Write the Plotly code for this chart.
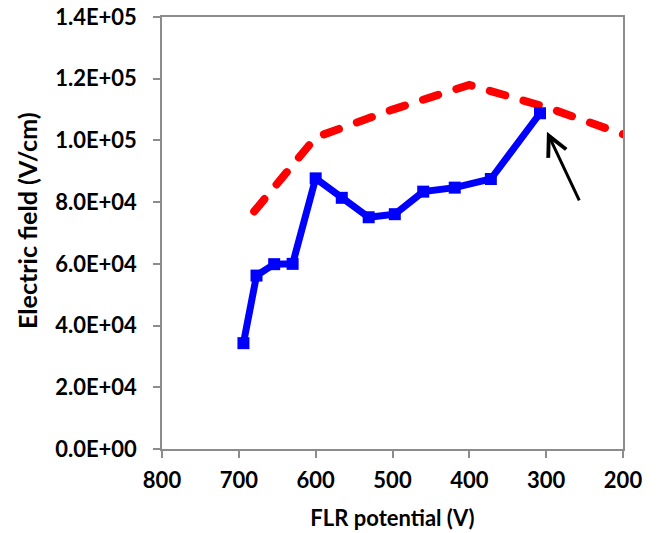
import plotly.graph_objects as go

# FLR potential (V) and electric field (V/cm)
flr_blue = [694, 677, 654, 630, 600, 566, 531, 497, 460, 419, 372, 308]
field_blue = [3.43e4, 5.62e4, 5.99e4, 6.0e4, 8.77e4, 8.14e4, 7.51e4, 7.61e4, 8.34e4, 8.47e4, 8.75e4, 1.088e5]

flr_red = [680, 600, 500, 400, 300, 200]
field_red = [7.7e4, 1.01e5, 1.10e5, 1.18e5, 1.108e5, 1.02e5]

x_ticks = [800, 700, 600, 500, 400, 300, 200]
y_ticks = [0, 2e4, 4e4, 6e4, 8e4, 1.0e5, 1.2e5, 1.4e5]
y_ticktext = ["0.0E+00", "2.0E+04", "4.0E+04", "6.0E+04", "8.0E+04", "1.0E+05", "1.2E+05", "1.4E+05"]

# arrow: head and tail in data coordinates
arrow_head = (299, 1.028e5)
arrow_tail = (256, 8.01e4)

FONT = "Lato"
AXIS_COLOR = "#8c8c8c"

fig = go.Figure()
fig.add_trace(go.Scatter(
    x=flr_red, y=field_red, mode="lines",
    line=dict(color="#ff0000", width=8, dash="16px,19px"),
    showlegend=False, hoverinfo="skip",
))
fig.add_trace(go.Scatter(
    x=flr_blue, y=field_blue, mode="lines+markers",
    line=dict(color="#0000ff", width=7),
    marker=dict(symbol="square", size=12, color="#0000ff"),
    showlegend=False,
))

fig.add_annotation(
    x=arrow_head[0], y=arrow_head[1], xref="x", yref="y",
    ax=arrow_tail[0], ay=arrow_tail[1], axref="x", ayref="y",
    showarrow=True, arrowhead=5, arrowsize=1.3, arrowwidth=3, arrowcolor="black",
    text="",
)

fig.add_annotation(
    text="<b>Electric field (V/cm)</b>", textangle=-90,
    xref="paper", yref="paper", x=-0.293, y=0.53,
    xanchor="center", yanchor="middle", showarrow=False,
    font=dict(family=FONT, size=25, color="black"),
)

fig.update_layout(
    width=669, height=533,
    margin=dict(l=162, r=46, t=17, b=84, autoexpand=False),
    paper_bgcolor="white", plot_bgcolor="white",
    font=dict(family=FONT, color="black"),
    xaxis=dict(
        range=[800, 200], tickvals=x_ticks, automargin=False,
        showline=True, mirror=True, linecolor=AXIS_COLOR, linewidth=1.5,
        ticks="outside", ticklen=7, tickcolor=AXIS_COLOR, tickwidth=1.5,
        showgrid=False, zeroline=False,
        tickfont=dict(family=FONT, size=22, color="black", weight="bold"),
        ticklabelstandoff=4,
        title=dict(text="<b>FLR potential (V)</b>", font=dict(family=FONT, size=22, color="black"), standoff=18),
    ),
    yaxis=dict(
        range=[0, 1.4e5], tickvals=y_ticks, ticktext=y_ticktext, automargin=False,
        showline=True, mirror=True, linecolor=AXIS_COLOR, linewidth=1.5,
        ticks="outside", ticklen=7, tickcolor=AXIS_COLOR, tickwidth=1.5,
        showgrid=False, zeroline=False,
        tickfont=dict(family=FONT, size=22, color="black", weight="bold"),
        ticklabelstandoff=12,
    ),
)

post = (
    "document.body.style.margin='0';"
    "var tr=document.querySelectorAll('.scatterlayer .trace');"
    "if(tr.length){var p=tr[0].querySelector('.js-line');"
    "if(p){p.style.strokeLinecap='round';}}"
)
fig.write_html("out.html", config={"displayModeBar": False}, post_script=post)
